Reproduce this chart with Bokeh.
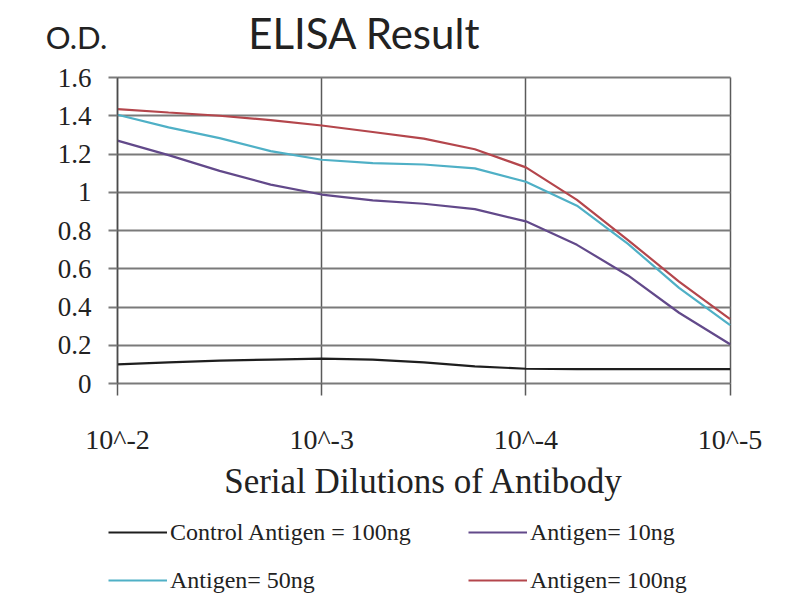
from bokeh.plotting import figure
from bokeh.models import Legend, LegendItem, FixedTicker, Label
from bokeh.embed import file_html
from bokeh.resources import INLINE

# dilution exponent (10^-n)
dilution = [2.0, 2.25, 2.5, 2.75, 3.0, 3.25, 3.5, 3.75, 4.0, 4.25, 4.5, 4.75, 5.0]
tick_positions = [2, 3, 4, 5]
tick_labels = ["10^-2", "10^-3", "10^-4", "10^-5"]
y_ticks = [0, 0.2, 0.4, 0.6, 0.8, 1.0, 1.2, 1.4, 1.6]
y_tick_labels = ["0", "0.2", "0.4", "0.6", "0.8", "1", "1.2", "1.4", "1.6"]

control_100ng = [0.10, 0.11, 0.12, 0.125, 0.13, 0.125, 0.11, 0.09, 0.077, 0.075, 0.075, 0.075, 0.075]
antigen_10ng = [1.27, 1.194, 1.112, 1.04, 0.988, 0.958, 0.94, 0.912, 0.848, 0.725, 0.565, 0.37, 0.205]
antigen_50ng = [1.405, 1.339, 1.283, 1.215, 1.17, 1.152, 1.145, 1.125, 1.055, 0.93, 0.73, 0.50, 0.305]
antigen_100ng = [1.435, 1.417, 1.40, 1.377, 1.349, 1.315, 1.28, 1.225, 1.13, 0.96, 0.75, 0.533, 0.337]

series_names = ["Control Antigen = 100ng", "Antigen= 10ng", "Antigen= 50ng", "Antigen= 100ng"]
series_colors = ["#1e1e1e", "#62498a", "#4fb0c6", "#b4464c"]

chart_title = "ELISA Result"
y_title = "O.D."
x_title = "Serial Dilutions of Antibody"

SERIF = "Liberation Serif"
SANS = "Lato"
TXT = "#222222"

W, H = 800, 600
# plot area in pixels: x 117..729.6 for 10^-2..10^-5 ; y 383 (0) .. 77 (1.6)
px_per_x = (729.6 - 117) / 3.0
px_per_y = (383 - 77) / 1.6
x_start = 2 - 117 / px_per_x
x_end = 5 + (W - 729.6) / px_per_x
y_start = -(H - 383) / px_per_y
y_end = 1.6 + 77 / px_per_y

p = figure(width=W, height=H, x_range=(x_start, x_end), y_range=(y_start, y_end),
           output_backend="svg", toolbar_location=None, min_border=0)
p.outline_line_color = None

# grids limited to the plot area
p.xgrid.ticker = FixedTicker(ticks=tick_positions)
p.ygrid.ticker = FixedTicker(ticks=y_ticks)
p.xgrid.bounds = (2, 5)
p.ygrid.bounds = (0, 1.6)
p.xgrid.cross_bounds = (0, 1.6)
p.ygrid.cross_bounds = (2, 5)
p.xgrid.grid_line_color = "#5a5a5a"
p.xgrid.grid_line_width = 1.5
p.ygrid.grid_line_color = "#7a7a7a"
p.ygrid.grid_line_width = 2

xa = p.xaxis[0]
xa.fixed_location = 0
xa.bounds = (2, 5)
xa.ticker = FixedTicker(ticks=tick_positions)
xa.major_label_overrides = {t: l for t, l in zip(tick_positions, tick_labels)}
xa.axis_line_color = None
xa.major_tick_line_color = "#5a5a5a"
xa.major_tick_line_width = 1.5
xa.major_tick_out = 12
xa.major_tick_in = 0
xa.minor_tick_line_color = None
xa.major_label_text_font = SERIF
xa.major_label_text_font_size = "28px"
xa.major_label_text_color = TXT
xa.major_label_standoff = 28
xa.axis_label = x_title
xa.axis_label_text_font = SERIF
xa.axis_label_text_font_size = "35px"
xa.axis_label_text_font_style = "normal"
xa.axis_label_text_color = TXT
xa.axis_label_standoff = 4

ya = p.yaxis[0]
ya.fixed_location = 2
ya.bounds = (0, 1.6)
ya.ticker = FixedTicker(ticks=y_ticks)
ya.major_label_overrides = {t: l for t, l in zip(y_ticks, y_tick_labels)}
ya.axis_line_color = "#4a4a4a"
ya.axis_line_width = 1.5
ya.major_tick_line_color = "#7a7a7a"
ya.major_tick_line_width = 2
ya.major_tick_out = 9
ya.major_tick_in = 0
ya.minor_tick_line_color = None
ya.major_label_text_font = SERIF
ya.major_label_text_font_size = "27px"
ya.major_label_text_color = TXT
ya.major_label_standoff = 17

series = [control_100ng, antigen_10ng, antigen_50ng, antigen_100ng]
renderers = []
for vals, col in zip(series, series_colors):
    renderers.append(p.line(dilution, vals, line_color=col, line_width=2.2))

# title and O.D. (screen units relative to the frame = whole canvas, y from bottom)
p.add_layout(Label(x=364, y=H - 32, x_units="screen", y_units="screen", text=chart_title,
                   text_font=SANS, text_font_size="42px", text_color=TXT,
                   text_align="center", text_baseline="middle"))
p.add_layout(Label(x=76, y=H - 36, x_units="screen", y_units="screen", text=y_title,
                   text_font=SANS, text_font_size="31px", text_color=TXT,
                   text_align="center", text_baseline="middle"))

def make_legend(idxs, x, y):
    items = [LegendItem(label=series_names[i], renderers=[renderers[i]]) for i in idxs]
    lg = Legend(items=items, location=(x, y), orientation="vertical")
    lg.label_text_font = SERIF
    lg.label_text_font_size = "24px"
    lg.label_text_color = TXT
    lg.glyph_width = 59
    lg.glyph_height = 30
    lg.label_height = 30
    lg.label_standoff = 3
    lg.spacing = 18
    lg.padding = 0
    lg.margin = 0
    lg.border_line_color = None
    lg.background_fill_alpha = 0
    return lg

p.add_layout(make_legend([0, 2], 108, 5))
p.add_layout(make_legend([1, 3], 468, 5))

open("out.html", "w").write(file_html(p, INLINE))
